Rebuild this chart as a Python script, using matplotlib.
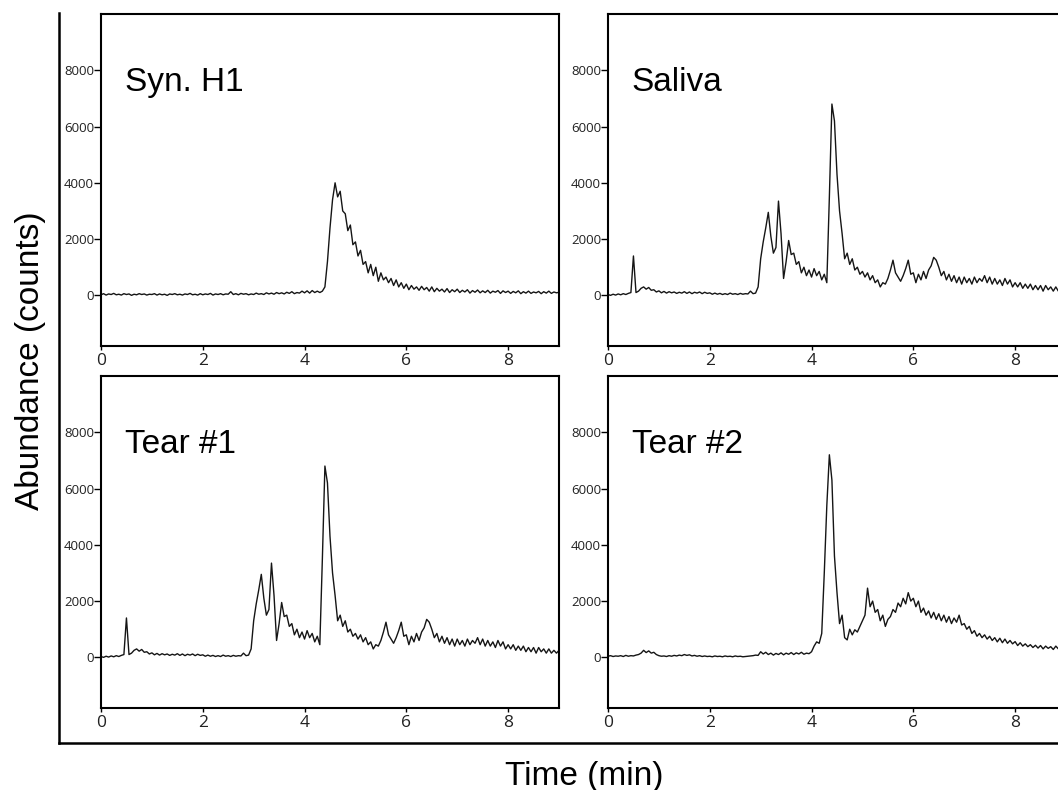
import numpy as np
import matplotlib
matplotlib.use('Agg')
import matplotlib.pyplot as plt

plt.rcParams['font.family'] = ['Liberation Sans', 'DejaVu Sans']

# sampling time axis (min), one point every 0.05 min
t = np.round(np.arange(0, 9.001, 0.05), 2)

# Syn. H1 abundance (counts)
syn_h1 = [
    20, 60, 10, 50, 30, 70, 20, 40, 10, 60, 30, 50, 0, 40, 20, 60, 30, 50, 10, 40,
    30, 60, 10, 50, 20, 40, 0, 50, 30, 60, 20, 40, 10, 50, 30, 70, 20, 40, 10, 60,
    20, 50, 30, 70, 10, 50, 30, 60, 20, 50, 40, 130, 30, 60, 20, 70, 40, 60, 20, 50,
    30, 80, 40, 60, 30, 90, 50, 80, 40, 100, 60, 90, 50, 110, 70, 130, 60, 100, 80, 150,
    90, 160, 80, 170, 100, 150, 100, 150, 300, 1200, 2400, 3400, 4000, 3500, 3700, 3000, 2900, 2300, 2500, 1800,
    1900, 1400, 1600, 1100, 1200, 800, 1100, 700, 1000, 500, 800, 550, 650, 450, 600, 350, 550, 300, 450, 250,
    400, 200, 350, 220, 300, 180, 320, 200, 280, 150, 300, 130, 250, 150, 220, 120, 240, 100, 200, 130,
    220, 100, 180, 120, 200, 80, 170, 110, 190, 90, 160, 100, 180, 80, 150, 110, 170, 70, 160, 100,
    150, 70, 140, 90, 160, 60, 130, 80, 150, 70, 120, 90, 140, 60, 130, 80, 150, 70, 120, 90,
    110]

# Saliva abundance (counts)
saliva = [
    30, 0, 40, 10, 50, 20, 60, 30, 70, 100, 1400, 100, 150, 250, 300, 220, 280, 180, 200, 120,
    160, 90, 140, 80, 130, 90, 120, 70, 110, 80, 130, 70, 120, 60, 110, 80, 120, 60, 110, 70,
    90, 40, 80, 40, 70, 30, 60, 30, 80, 40, 60, 30, 70, 40, 60, 50, 150, 60, 80, 300,
    1300, 1900, 2400, 2950, 2100, 1500, 1700, 3350, 2200, 600, 1200, 1950, 1450, 1500, 1100, 1200, 800, 1000, 700, 900,
    650, 950, 700, 850, 550, 750, 450, 3500, 6800, 6200, 4300, 3000, 2200, 1300, 1500, 1100, 1300, 900, 1000, 750,
    850, 650, 800, 550, 700, 450, 550, 300, 450, 400, 600, 900, 1250, 800, 650, 500, 700, 950, 1250, 750,
    800, 450, 750, 550, 850, 600, 900, 1050, 1350, 1250, 1000, 700, 850, 550, 750, 500, 700, 450, 650, 400,
    650, 450, 600, 400, 650, 450, 600, 500, 700, 450, 650, 400, 600, 400, 550, 350, 600, 400, 550, 300,
    450, 300, 450, 250, 400, 250, 400, 200, 350, 200, 350, 150, 350, 200, 300, 150, 300, 150, 250, 150,
    250]

# Tear #1 trace is the same as the saliva one in the figure
tear1 = list(saliva)

# Tear #2 abundance (counts)
tear2 = [
    40, 60, 30, 50, 40, 60, 30, 70, 40, 60, 50, 80, 100, 150, 250, 170, 230, 150, 180, 100,
    60, 40, 50, 30, 60, 40, 70, 50, 80, 60, 100, 70, 90, 50, 70, 40, 60, 30, 50, 30,
    40, 20, 50, 30, 40, 20, 50, 30, 40, 20, 50, 30, 40, 20, 30, 40, 50, 60, 80, 70,
    200, 120, 180, 100, 150, 80, 140, 100, 160, 90, 150, 110, 170, 100, 160, 120, 180, 110, 150, 130,
    200, 400, 550, 500, 850, 3000, 5400, 7200, 6300, 3600, 2300, 1200, 1500, 700, 620, 1000, 800, 980, 900, 1100,
    1300, 1500, 2460, 1800, 2000, 1600, 1700, 1300, 1500, 1100, 1350, 1450, 1700, 1600, 1930, 1800, 2100, 1900, 2300, 2000,
    2100, 1800, 2000, 1600, 1750, 1500, 1650, 1400, 1600, 1350, 1550, 1300, 1500, 1250, 1450, 1200, 1400, 1250, 1500, 1150,
    1200, 1000, 1100, 850, 950, 750, 850, 700, 800, 650, 750, 600, 700, 550, 680, 520, 650, 500, 600, 480,
    560, 420, 520, 400, 480, 380, 450, 350, 430, 330, 420, 300, 400, 320, 380, 280, 400, 300, 350, 260,
    320]

names = ['Syn. H1', 'Saliva', 'Tear #1', 'Tear #2']
traces = [syn_h1, saliva, tear1, tear2]
xticks = [0, 2, 4, 6, 8]
yticks = [0, 2000, 4000, 6000, 8000]

W, H = 1058, 790
fig = plt.figure(figsize=(W / 100, H / 100), dpi=100, facecolor='white')

# outer frame (only left + bottom lines)
frame = fig.add_axes([58.5 / W, 1 - 743 / H, 1 - 58.5 / W, (743 - 13) / H])
frame.patch.set_visible(False)
for s in ['top', 'right']:
    frame.spines[s].set_visible(False)
for s in ['left', 'bottom']:
    frame.spines[s].set_linewidth(1.8)
frame.set_xticks([])
frame.set_yticks([])

pw, ph = 458 / W, 332 / H
lefts = [101 / W, 608 / W]
bottoms = [1 - 346 / H, 1 - 708 / H]
pos = [(lefts[0], bottoms[0]), (lefts[1], bottoms[0]),
       (lefts[0], bottoms[1]), (lefts[1], bottoms[1])]

for (l, b), name, y in zip(pos, names, traces):
    ax = fig.add_axes([l, b, pw, ph])
    ax.plot(t, y, color='#151515', linewidth=1.0)
    ax.set_xlim(0, 9)
    ax.set_ylim(-1800, 10000)
    ax.set_xticks(xticks)
    ax.set_yticks(yticks)
    for s in ax.spines.values():
        s.set_linewidth(1.5)
    ax.tick_params(axis='y', direction='out', length=5, width=1, pad=0,
                   labelsize=9.5, labelcolor='#222222')
    ax.tick_params(axis='x', direction='out', length=3, width=1, pad=2,
                   labelsize=12.5, labelcolor='#222222')
    for lab in ax.get_xticklabels() + ax.get_yticklabels():
        lab.set_family(['Open Sans', 'DejaVu Sans'])
    ax.text(0.052, 0.767, name, transform=ax.transAxes, fontsize=24,
            va='baseline', ha='left')

fig.text(31 / W, 1 - 361 / H, 'Abundance (counts)', rotation=90,
         fontsize=24, ha='center', va='center')
fig.text(584 / W, 1 - 785 / H, 'Time (min)', fontsize=24,
         ha='center', va='baseline')

plt.savefig('out.png', dpi=100)
